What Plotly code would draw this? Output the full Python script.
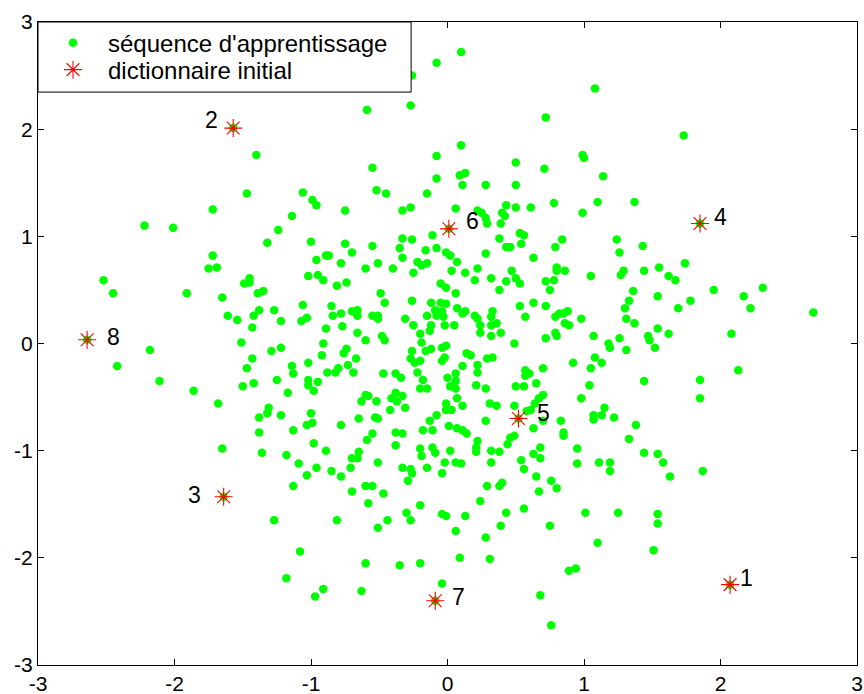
import plotly.graph_objects as go

# ---- training sequence ("séquence d'apprentissage"), grouped by region ----
pts_top = [
    (0.10, 2.72), (-0.08, 2.62), (-0.26, 2.50), (-0.59, 2.18), (-0.27, 2.22), (0.72, 2.11),
    (1.08, 2.38), (1.73, 1.94), (0.99, 1.76), (1.00, 1.73), (1.14, 1.56), (1.10, 1.32),
    (1.37, 1.32), (0.99, 1.22), (1.24, 0.97),
    (0.10, 1.85), (-0.08, 1.75), (-0.55, 1.64), (0.50, 1.69), (0.71, 1.63), (0.09, 1.57),
    (0.13, 1.59), (-0.08, 1.54), (0.11, 1.48), (0.28, 1.48), (0.50, 1.48), (-0.52, 1.43),
    (-0.45, 1.40), (-0.15, 1.40), (-1.06, 1.41), (-0.99, 1.34), (-0.96, 1.29), (-0.75, 1.24),
    (-0.33, 1.24), (-0.27, 1.27), (0.06, 1.26), (0.22, 1.24), (0.25, 1.22), (0.28, 1.17),
    (0.29, 1.12), (0.43, 1.29), (0.40, 1.22), (0.42, 1.19), (0.39, 1.12), (0.50, 1.27),
    (0.61, 1.27), (0.78, 1.31), (-0.11, 1.01), (0.53, 1.03), (0.56, 1.01), (0.38, 0.98),
    (0.84, 0.97), (-0.33, 0.98), (-0.26, 0.97), (-0.75, 0.93), (-1.00, 0.95),
    (-1.40, 1.76), (-1.47, 1.40), (-1.72, 1.25), (-1.14, 1.19), (-1.24, 1.06),
    (-2.22, 1.10), (-2.01, 1.08),
]

pts_left = [
    (-1.32, 0.94), (-1.72, 0.82), (-1.75, 0.70), (-1.69, 0.71), (-0.96, 0.78), (-1.02, 0.63),
    (-0.95, 0.64), (-2.52, 0.59), (-2.45, 0.47), (-1.91, 0.47), (-1.65, 0.43), (-1.49, 0.56),
    (-1.45, 0.61), (-1.45, 0.57), (-1.39, 0.47), (-1.35, 0.49), (-1.06, 0.36), (-1.27, 0.31),
    (-1.38, 0.31), (-1.42, 0.26), (-1.61, 0.26), (-1.54, 0.22), (-1.43, 0.15), (-1.22, 0.21),
    (-1.07, 0.21), (-1.03, 0.24), (-1.51, 0.01), (-2.18, -0.06), (-2.42, -0.21), (-2.11, -0.35),
    (-1.86, -0.44), (-1.68, -0.56), (-1.65, -0.98), (-1.29, -0.07), (-1.22, -0.04),
    (-1.43, -0.14), (-1.47, -0.23), (-1.14, -0.21), (-1.13, -0.28), (-1.02, -0.18),
    (-1.50, -0.40), (-1.42, -0.37), (-1.25, -0.34), (-1.17, -0.46), (-1.02, -0.34),
    (-1.02, -0.39), (-0.95, -0.36), (-0.98, -0.44), (-1.31, -0.60), (-1.32, -0.65),
    (-1.38, -0.69), (-1.22, -0.67), (-1.00, -0.65), (-1.03, -0.76), (-0.99, -0.74),
    (-1.38, -0.83), (-1.13, -0.81), (-0.98, -0.93), (-1.36, -1.02), (-1.18, -1.04),
    (-1.09, -1.12), (-0.96, -1.16), (-1.03, -1.23), (-1.13, -1.33), (-1.27, -1.65),
    (-1.08, -1.94), (-1.18, -2.19), (-0.97, -2.36),
]

pts_right = [
    (1.43, 0.91), (1.26, 0.85), (1.74, 0.75), (1.55, 0.71), (1.29, 0.68), (1.27, 0.64),
    (1.44, 0.68), (1.05, 0.63), (1.62, 0.63), (1.67, 0.59), (1.95, 0.50), (2.31, 0.52),
    (2.17, 0.44), (2.22, 0.33), (2.68, 0.29), (1.36, 0.49), (1.33, 0.40), (1.54, 0.44),
    (1.78, 0.40), (1.69, 0.33), (1.30, 0.33), (0.98, 0.23), (1.31, 0.23), (1.37, 0.19),
    (1.54, 0.14), (1.62, 0.09), (2.08, 0.09), (1.07, 0.07), (1.26, 0.05), (1.47, 0.07),
    (1.48, 0.03), (1.52, -0.04), (1.31, -0.06), (1.18, 0.00), (1.19, -0.04), (1.08, -0.13),
    (1.13, -0.18), (1.05, -0.23), (2.13, -0.25), (1.44, -0.35), (1.85, -0.34), (1.85, -0.51),
    (1.04, -0.39), (0.98, -0.51), (1.15, -0.60), (1.07, -0.67), (1.07, -0.71), (1.13, -0.67),
    (1.22, -0.69), (1.38, -0.76), (1.33, -0.89), (0.95, -0.98), (1.44, -1.02), (1.54, -1.03),
    (1.11, -1.11), (1.19, -1.11), (1.19, -1.19), (1.58, -1.11), (1.63, -1.24), (1.87, -1.19),
    (0.95, -1.12), (1.01, -1.58), (1.25, -1.58), (1.54, -1.59), (1.54, -1.68), (1.10, -1.86),
    (1.51, -1.93), (0.94, -2.10),
]

pts_bottom = [
    (-0.89, -1.00), (-0.70, -1.07), (-0.66, -1.07), (-0.65, -1.01), (-0.85, -1.19),
    (-0.78, -1.24), (-0.71, -1.16), (-0.51, -1.11), (-0.19, -1.05), (-0.09, -1.02),
    (0.02, -1.00), (0.21, -1.01), (0.32, -1.00), (0.38, -1.01), (-0.33, -1.16), (-0.27, -1.17),
    (-0.26, -1.21), (-0.15, -1.16), (-0.02, -1.11), (0.06, -1.11), (0.10, -1.12), (-0.04, -1.21),
    (0.32, -1.11), (0.54, -1.09), (0.56, -1.17), (0.63, -1.03), (0.68, -1.07),
    (-0.29, -1.28), (-0.60, -1.33), (-0.55, -1.33), (-0.70, -1.38), (-0.47, -1.40),
    (-0.58, -1.49), (0.29, -1.33), (0.38, -1.33), (0.40, -1.30), (0.65, -1.24), (0.76, -1.28),
    (0.80, -1.35), (0.67, -1.38), (0.24, -1.47), (-0.20, -1.51), (-0.30, -1.58), (-0.27, -1.65),
    (-0.04, -1.59), (-0.01, -1.61), (0.13, -1.61), (0.43, -1.58), (0.56, -1.54), (-0.81, -1.65),
    (-0.51, -1.72), (-0.44, -1.65), (0.06, -1.75), (0.39, -1.70), (0.75, -1.70), (0.28, -1.81),
    (-0.60, -2.05), (-0.35, -2.07), (-0.20, -2.05), (0.09, -2.00), (0.31, -2.01), (0.89, -2.12),
    (-0.91, -2.29), (-0.63, -2.31), (-0.04, -2.24), (0.68, -2.35), (0.76, -2.63),
]

pts_center = [
    (-0.55, 0.91), (-0.35, 0.89), (-0.33, 0.80), (-0.16, 0.87), (-0.08, 0.89), (-0.01, 0.85),
    (0.02, 0.82), (0.07, 0.76), (0.28, 0.84), (0.43, 0.90), (0.46, 0.90), (0.54, 0.93),
    (0.63, 0.80), (0.79, 0.90), (-0.89, 0.82), (-0.87, 0.82), (-0.78, 0.75), (-0.70, 0.85),
    (-0.60, 0.70), (-0.51, 0.75), (-0.40, 0.70), (-0.25, 0.66), (-0.22, 0.76), (-0.19, 0.73),
    (-0.15, 0.75), (0.03, 0.68), (0.13, 0.66), (0.22, 0.70), (0.20, 0.59), (0.32, 0.61),
    (0.38, 0.50), (0.43, 0.58), (0.47, 0.68), (0.50, 0.61), (0.53, 0.56), (0.72, 0.58),
    (0.75, 0.50), (0.78, 0.59), (0.80, 0.71), (0.80, 0.68), (0.86, 0.68), (-0.91, 0.59),
    (-0.81, 0.54), (-0.74, 0.57), (-0.49, 0.47), (-0.46, 0.38), (-0.26, 0.40), (-0.05, 0.56),
    (-0.01, 0.52), (0.06, 0.47), (-0.12, 0.38), (-0.05, 0.38), (-0.01, 0.37), (-0.09, 0.31),
    (-0.04, 0.30), (-0.08, 0.26), (-0.03, 0.25), (-0.02, 0.17), (-0.15, 0.26), (0.05, 0.17),
    (0.07, 0.33), (0.13, 0.30), (0.11, 0.28), (0.20, 0.26), (0.22, 0.23), (0.24, 0.17),
    (0.24, 0.10), (0.33, 0.30), (0.32, 0.25), (0.36, 0.19), (0.32, 0.17), (0.32, 0.07),
    (0.39, 0.10), (0.53, 0.35), (0.63, 0.38), (0.72, 0.35), (0.57, 0.25), (0.79, 0.25),
    (0.82, 0.28), (0.85, 0.28), (0.88, 0.30), (0.86, 0.19), (0.89, 0.17), (0.79, 0.10),
    (0.80, 0.07), (0.72, 0.05), (0.49, 0.00), (-0.85, 0.35), (-0.84, 0.26), (-0.78, 0.28),
    (-0.70, 0.30), (-0.66, 0.31), (-0.66, 0.26), (-0.55, 0.26), (-0.51, 0.26), (-0.51, 0.23),
    (-0.31, 0.23), (-0.25, 0.17), (-0.77, 0.16), (-0.89, 0.14), (-0.66, 0.10), (-0.60, 0.03),
    (-0.48, 0.07), (-0.46, 0.03), (-0.20, 0.09), (-0.19, 0.01), (-0.12, 0.17), (-0.13, 0.12),
    (-0.91, 0.00), (-0.92, -0.11), (-0.74, -0.05), (-0.76, -0.09), (-0.67, -0.14), (-0.73, -0.20),
    (-0.80, -0.23), (-0.82, -0.27), (-0.88, -0.27), (-0.69, -0.27), (-0.47, -0.28), (-0.38, -0.28),
    (-0.34, -0.32), (-0.26, -0.07), (-0.27, -0.14), (-0.24, -0.18), (-0.20, -0.16), (-0.16, -0.07),
    (-0.12, -0.05), (-0.22, -0.27), (-0.18, -0.34), (-0.20, -0.42), (-0.15, -0.42), (-0.04, -0.16),
    (-0.02, -0.13), (-0.01, -0.02), (-0.04, -0.04), (0.11, -0.21), (0.14, -0.09), (0.17, -0.11),
    (0.22, -0.20), (0.22, -0.27), (0.29, -0.14), (0.33, -0.13), (0.00, -0.32), (0.06, -0.28),
    (0.06, -0.35), (0.02, -0.40), (0.06, -0.42), (0.21, -0.39), (0.28, -0.42), (0.07, -0.51),
    (0.11, -0.58), (-0.01, -0.56), (-0.01, -0.62), (0.03, -0.62), (0.31, -0.56), (0.36, -0.58),
    (0.57, -0.25), (0.60, -0.28), (0.57, -0.30), (0.70, -0.23), (0.65, -0.37), (0.50, -0.40),
    (0.56, -0.40), (0.70, -0.48), (0.67, -0.51), (0.64, -0.56), (0.61, -0.62), (0.58, -0.63),
    (0.49, -0.58), (0.92, -0.18), (0.83, -0.72), (0.85, -0.83), (0.85, -0.86), (0.63, -0.79),
    (0.70, -0.72), (0.68, -0.97), (0.46, -0.88), (0.49, -0.86), (0.44, -0.94), (0.28, -0.72),
    (0.22, -0.91), (0.21, -0.97), (0.07, -0.79), (0.11, -0.81), (0.14, -0.84), (0.01, -0.77),
    (-0.08, -0.67), (-0.13, -0.72), (-0.18, -0.81), (-0.11, -0.81), (-0.11, -0.97), (-0.20, -0.98),
    (-0.31, -0.60), (-0.42, -0.62), (-0.41, -0.51), (-0.38, -0.46), (-0.37, -0.54), (-0.33, -0.49),
    (-0.60, -0.48), (-0.58, -0.49), (-0.63, -0.54), (-0.52, -0.54), (-0.65, -0.70), (-0.53, -0.69),
    (-0.51, -0.70), (-0.78, -0.76), (-0.55, -0.84), (-0.59, -0.90), (-0.38, -0.83), (-0.33, -0.84),
    (-0.38, -0.95),
]

# ---- initial dictionary ("dictionnaire initial") ----
dict_x = [2.07, -1.57, -1.64, 1.85, 0.52, 0.01, -0.09, -2.64]
dict_y = [-2.25, 2.01, -1.43, 1.12, -0.70, 1.07, -2.40, 0.035]
dict_labels = ["1", "2", "3", "4", "5", "6", "7", "8"]

tick_vals = [-3, -2, -1, 0, 1, 2, 3]
tick_text = ["-3", "-2", "-1", "0", "1", "2", "3"]

train = pts_top + pts_left + pts_right + pts_bottom + pts_center
train_x = [p[0] for p in train] + dict_x
train_y = [p[1] for p in train] + dict_y

FONT = "Liberation Sans, Arial, Helvetica, sans-serif"

fig = go.Figure()
fig.add_trace(go.Scatter(
    x=train_x, y=train_y, mode="markers", name="séquence d'apprentissage",
    marker=dict(color="#00ff00", size=8.5, line=dict(width=0)),
    legend="legend",
))
fig.add_trace(go.Scatter(
    x=dict_x, y=dict_y, mode="markers", name="dictionnaire initial",
    marker=dict(symbol="asterisk-open", size=15, color="red",
                line=dict(color="red", width=1.1)),
    legend="legend2",
))

# label offsets in pixels (style only)
label_shift = {
    "1": (16, 7), "2": (-22, 8), "3": (-29, 2), "4": (20, 6),
    "5": (25, 6), "6": (24, 8), "7": (23, 4), "8": (26, 3),
}
for x, y, t in zip(dict_x, dict_y, dict_labels):
    dx, dy = label_shift[t]
    fig.add_annotation(x=x, y=y, text=t, showarrow=False, xshift=dx, yshift=dy,
                       font=dict(family=FONT, size=23, color="black"))

# opaque legend box (MATLAB style)
fig.add_shape(type="rect", xref="paper", yref="paper",
              x0=0, x1=0.4556, y0=0.891, y1=1,
              fillcolor="white", line=dict(color="black", width=1), layer="above")

axis_common = dict(
    range=[-3, 3], tickvals=tick_vals, ticktext=tick_text,
    ticks="inside", ticklen=6, tickcolor="black", tickwidth=1,
    showline=True, linecolor="black", linewidth=1, mirror="ticks",
    showgrid=False, zeroline=False, automargin=False,
    tickfont=dict(family=FONT, size=21, color="black"),
)

legend_common = dict(
    x=0.0, xanchor="left", yanchor="middle",
    bgcolor="rgba(0,0,0,0)", borderwidth=0, itemwidth=60,
    font=dict(family=FONT, size=24, color="black"),
)

fig.update_layout(
    width=864, height=694,
    margin=dict(l=38, r=7, t=22, b=29),
    paper_bgcolor="white", plot_bgcolor="white",
    xaxis=axis_common, yaxis=axis_common,
    showlegend=True,
    legend=dict(legend_common, y=0.9673),
    legend2=dict(legend_common, y=0.9253),
)

fig.write_html(
    "out.html",
    config={"displayModeBar": False},
    post_script="document.body.style.margin='0px';"
                "document.body.style.overflow='hidden';",
)
